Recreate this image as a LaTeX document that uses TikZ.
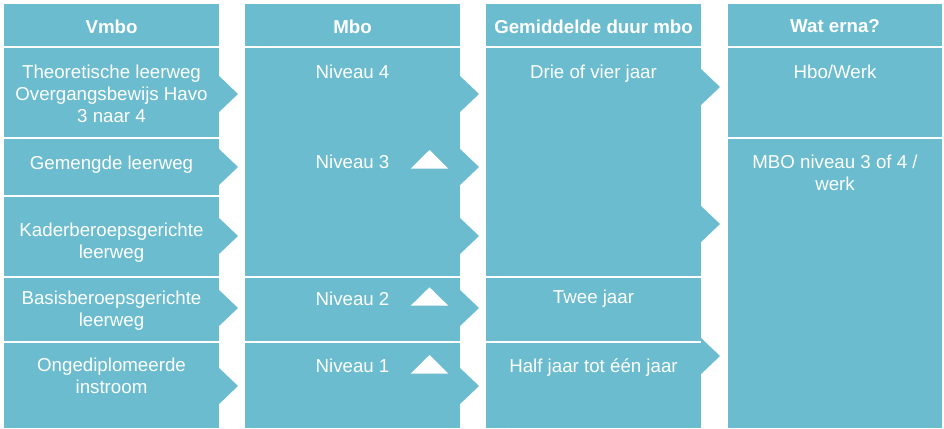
\documentclass[tikz,border=0pt]{standalone}
\usepackage{fontspec}
\setmainfont{Liberation Sans}
\definecolor{teal1}{RGB}{107,188,206}
\begin{document}
\begin{tikzpicture}[x=1pt,y=-1pt,
  colbox/.style={fill=teal1},
  sepline/.style={draw=white,line width=2pt},
  tabfill/.style={fill=teal1},
  uptri/.style={fill=white},
  hdr/.style={text=white,font=\fontsize{18.7}{21.7}\selectfont\bfseries,anchor=north,inner sep=0pt},
  body/.style={text=white,font=\fontsize{18.7}{21.7}\selectfont,anchor=north,inner sep=0pt,align=center},
  bodyb/.style={text=white,font=\fontsize{18.7}{21.7}\selectfont,anchor=base,inner sep=0pt,align=center}]
\useasboundingbox (0,0) rectangle (944,428);
\fill[white] (0,0) rectangle (944,428);
% columns
\fill[colbox] (4,4) rectangle (219,428);
\fill[colbox] (245,4) rectangle (460,428);
\fill[colbox] (486,4) rectangle (701,428);
\fill[colbox] (728,4) rectangle (942,428);
% right-pointing tabs
\foreach \yy in {94,167,236,308,386} {
  \fill[tabfill] (218,\yy-19) -- (238,\yy) -- (218,\yy+19) -- cycle;
  \fill[tabfill] (459,\yy-19) -- (479,\yy) -- (459,\yy+19) -- cycle;
}
\foreach \yy in {87,224,356} {
  \fill[tabfill] (700,\yy-19) -- (720,\yy) -- (700,\yy+19) -- cycle;
}
% separators
\foreach \yy in {47,137.7,195.7,277,341.7} \draw[sepline] (4,\yy) -- (219,\yy);
\foreach \yy in {47,276.5,341.7} \draw[sepline] (245,\yy) -- (460,\yy);
\foreach \yy in {47,276.5,341.7} \draw[sepline] (486,\yy) -- (701,\yy);
\foreach \yy in {47,137.5} \draw[sepline] (728,\yy) -- (942,\yy);
% white up triangles
\fill[uptri] (410.7,168.7) -- (429.5,150) -- (448.3,168.7) -- cycle;
\fill[uptri] (410.7,305.7) -- (429.5,287.3) -- (448.3,305.7) -- cycle;
\fill[uptri] (410.7,373.7) -- (429.5,355) -- (448.3,373.7) -- cycle;
% headers
\node[hdr] (h1) at (111.5,19.5) {Vmbo};
\node[hdr] (h2) at (352.5,19.5) {Mbo};
\node[hdr] (h3) at (593.5,19.5) {Gemiddelde duur mbo};
\node[hdr] (h4) at (835,19.5) {Wat erna?};
% column 1
\node[body] (a1) at (111.5,65.2) {Theoretische leerweg\\Overgangsbewijs Havo\\3 naar 4};
\node[body] (a2) at (111.5,156.2) {Gemengde leerweg};
\node[body] (a3) at (111.5,222.8) {Kaderberoepsgerichte\\leerweg};
\node[body] (a4) at (111.5,291.2) {Basisberoepsgerichte\\leerweg};
\node[body] (a5) at (111.5,357.8) {Ongediplomeerde\\instroom};
% column 2
\node[body] (b1) at (352.5,65.2) {Niveau 4};
\node[body] (b2) at (352.5,155) {Niveau 3};
\node[body] (b3) at (352.5,292) {Niveau 2};
\node[body] (b4) at (352.5,359) {Niveau 1};
% column 3
\node[body] (c1) at (593.5,64.8) {Drie of vier jaar};
\node[body] (c2) at (593.5,290) {Twee jaar};
\node[bodyb] (c3) at (593.5,372.7) {Half jaar tot één jaar};
% column 4
\node[body] (d1) at (835,64.8) {Hbo/Werk};
\node[body] (d2) at (835,155) {MBO niveau 3 of 4 /\\werk};
\end{tikzpicture}
\end{document}
